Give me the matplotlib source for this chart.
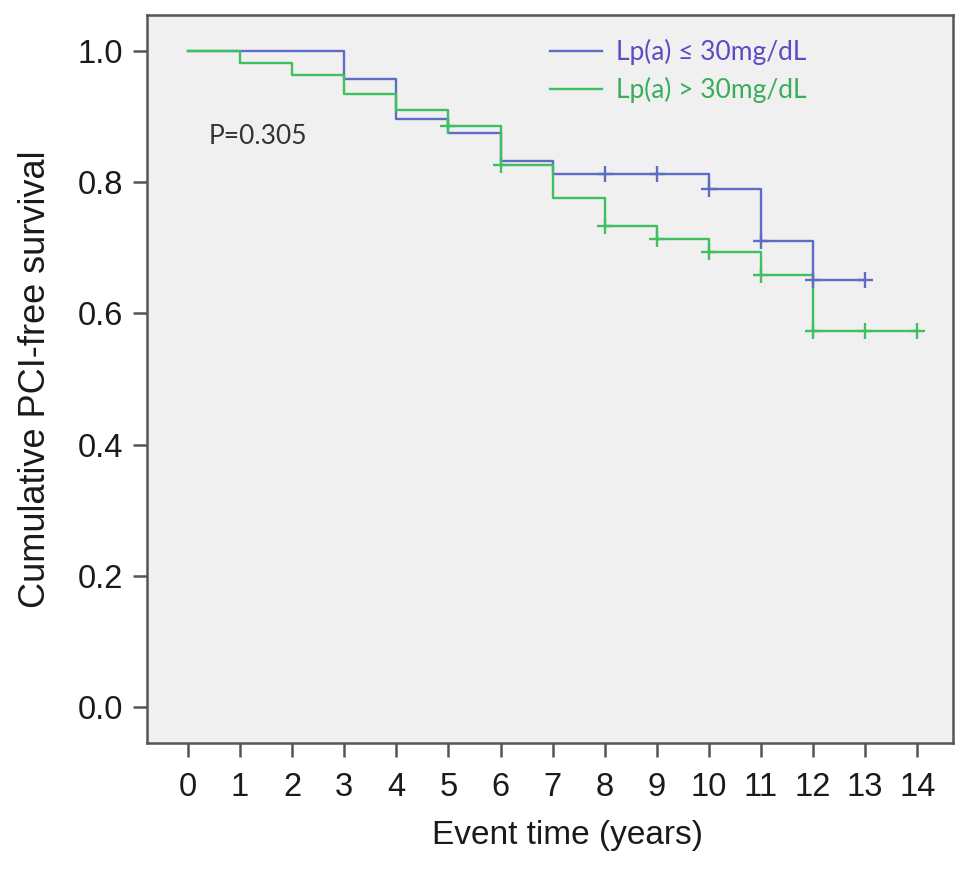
import matplotlib.pyplot as plt
import numpy as np

# Kaplan-Meier steps
lowTimes = [0, 3, 4, 5, 6, 7, 10, 11, 12, 13]
lowSurv = [1.0, 0.958, 0.896, 0.875, 0.832, 0.812, 0.790, 0.711, 0.651, 0.651]
lowCensor = [8, 9, 10, 11, 12, 13]

highTimes = [0, 1, 2, 3, 4, 5, 6, 7, 8, 9, 10, 11, 12, 14]
highSurv = [1.0, 0.982, 0.964, 0.935, 0.910, 0.886, 0.826, 0.776, 0.733, 0.713, 0.693, 0.659, 0.573, 0.573]
highCensor = [5, 6, 8, 9, 10, 11, 12, 13, 14]

labels = ["Lp(a) \u2264 30mg/dL", "Lp(a) > 30mg/dL"]
xTicks = list(range(0, 15))
yTicks = [0.0, 0.2, 0.4, 0.6, 0.8, 1.0]

blue = "#5f6cc6"
green = "#3fbf5f"
blueText = "#5a4cc2"
greenText = "#38ad5c"

plt.rcParams["font.family"] = ["Liberation Sans", "DejaVu Sans"]


def survAt(times, surv, t):
    """
        Value of the step curve at time t.
    """
    idx = np.searchsorted(times, t, side="right") - 1
    return surv[idx]


fig = plt.figure(figsize=(9.69, 8.71), dpi=100)
ax = fig.add_axes([0.1517, 0.147, 0.832, 0.8358])
ax.set_facecolor("#f0f0f0")

ax.step(lowTimes, lowSurv, where="post", color=blue, lw=1.7, label=labels[0])
ax.step(highTimes, highSurv, where="post", color=green, lw=1.7, label=labels[1])

ax.plot(lowCensor, [survAt(lowTimes, lowSurv, t) for t in lowCensor], "+",
        color=blue, ms=11, mew=1.7)
ax.plot(highCensor, [survAt(highTimes, highSurv, t) for t in highCensor], "+",
        color=green, ms=11, mew=1.7)

ax.set_xlim(-0.787, 14.69)
ax.set_ylim(-0.055, 1.055)
ax.set_xticks(xTicks)
ax.set_yticks(yTicks)
ax.set_yticklabels(["%.1f" % v for v in yTicks])

for s in ax.spines.values():
    s.set_color("#555555")
    s.set_linewidth(1.8)

ax.tick_params(axis="both", direction="out", length=10, width=1.8, color="#555555",
               labelsize=23.5, labelcolor="#1a1a1a", pad=7)
ax.tick_params(axis="x", pad=11)

ax.set_xlabel("Event time (years)", fontsize=24, color="#1a1a1a", labelpad=12)
ax.xaxis.label.set_x(0.521)
ax.set_ylabel("Cumulative PCI-free survival", fontsize=26, color="#1a1a1a", labelpad=18)

ax.text(0.4, 0.87, "P=0.305", fontsize=19, color="#333333",
        family=["Lato", "DejaVu Sans"], va="center")

leg = ax.legend(loc="upper left", bbox_to_anchor=(0.47, 1.0), frameon=False,
                handlelength=2.0, handletextpad=0.5, labelspacing=0.45,
                prop={"family": ["Lato", "DejaVu Sans"], "size": 19},
                labelcolor=[blueText, greenText])

fig.savefig("out.png", dpi=100)
